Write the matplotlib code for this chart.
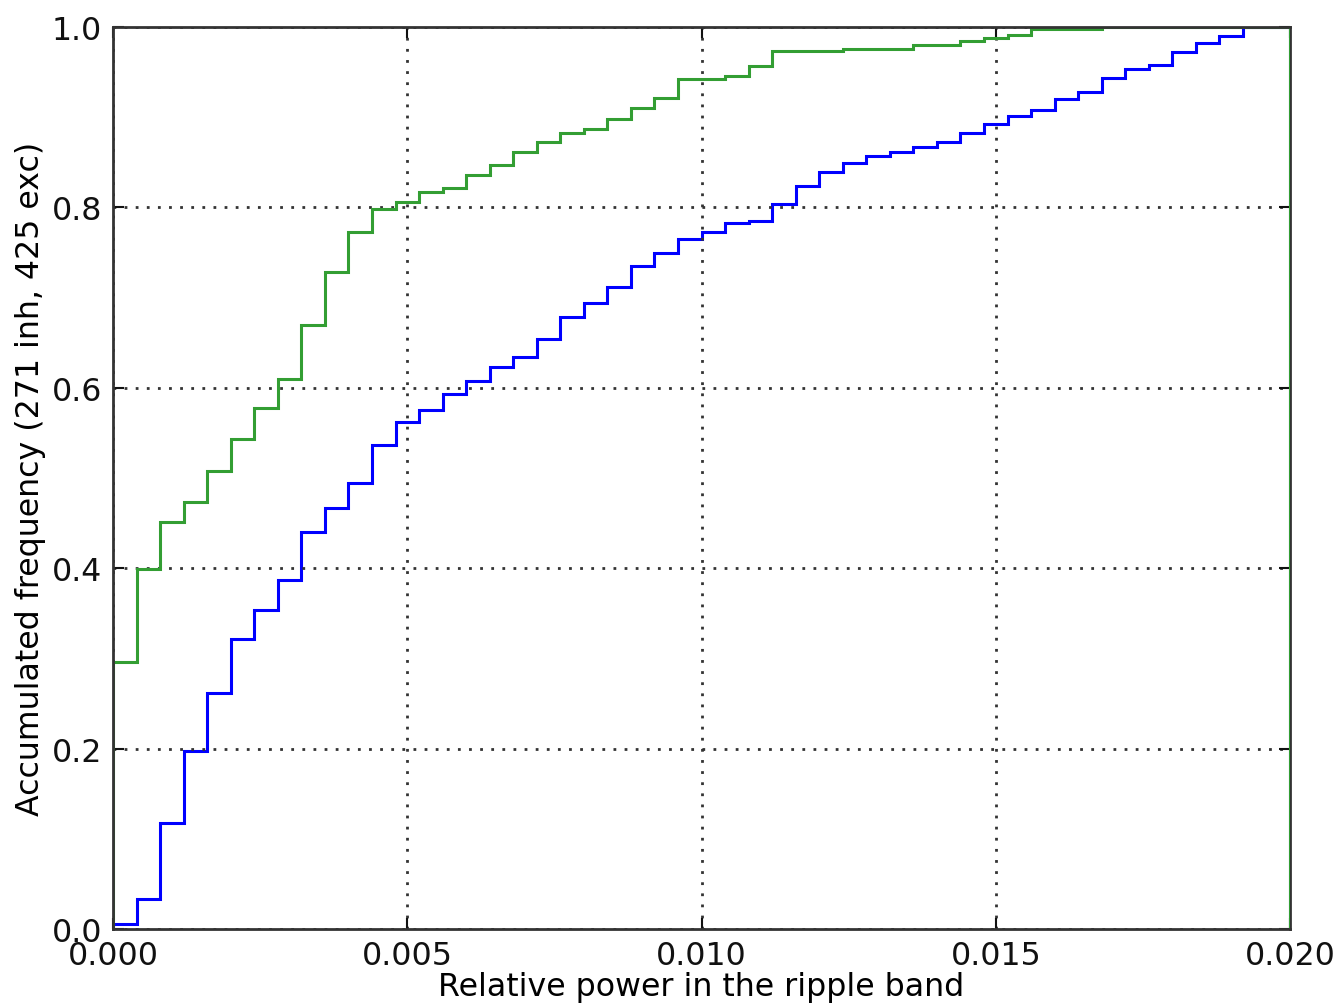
import numpy as np
import matplotlib
matplotlib.use("Agg")
import matplotlib.pyplot as plt

# bin edges of the cumulative histograms (50 bins between 0 and 0.02)
edges = np.linspace(0.0, 0.02, 51)

# accumulated frequency per bin, 425 excitatory cells
exc = [0.0055, 0.033, 0.117, 0.197, 0.262, 0.322, 0.354, 0.387, 0.440, 0.467,
       0.494, 0.537, 0.562, 0.575, 0.593, 0.608, 0.623, 0.634, 0.654, 0.679,
       0.694, 0.712, 0.735, 0.750, 0.765, 0.773, 0.783, 0.785, 0.804, 0.824,
       0.839, 0.849, 0.857, 0.861, 0.867, 0.873, 0.882, 0.892, 0.901, 0.908,
       0.920, 0.928, 0.943, 0.953, 0.958, 0.972, 0.982, 0.990, 1.0, 1.0]

# accumulated frequency per bin, 271 inhibitory cells
inh = [0.296, 0.399, 0.451, 0.473, 0.508, 0.543, 0.578, 0.610, 0.670, 0.728,
       0.773, 0.798, 0.806, 0.817, 0.821, 0.836, 0.847, 0.861, 0.872, 0.883,
       0.887, 0.898, 0.910, 0.921, 0.942, 0.942, 0.946, 0.957, 0.973, 0.973,
       0.973, 0.976, 0.976, 0.976, 0.980, 0.980, 0.984, 0.988, 0.991, 0.998,
       0.998, 0.998, 1.0, 1.0, 1.0, 1.0, 1.0, 1.0, 1.0, 1.0]

xticks = [0.0, 0.005, 0.010, 0.015, 0.020]
yticks = [0.0, 0.2, 0.4, 0.6, 0.8, 1.0]

fs = 22.8
fig = plt.figure(figsize=(13.36, 10.04), dpi=100)
ax = fig.add_axes([0.0846, 0.0737, 0.881, 0.8984])

ax.stairs(exc, edges, baseline=0, color='b', linewidth=2.2)
ax.stairs(inh, edges, baseline=0, color=(0.2, 0.62, 0.2), linewidth=2.2, zorder=3)

ax.set_xlim(0, 0.02)
ax.set_ylim(0, 1.0)
ax.set_xticks(xticks)
ax.set_xticklabels(['%.3f' % t for t in xticks])
ax.set_yticks(yticks)
ax.set_yticklabels(['%.1f' % t for t in yticks])

ax.grid(True, color='#333333', linestyle=(0, (1, 3)), linewidth=2)
ax.tick_params(direction='in', length=8, width=1.5, top=True, right=True,
               labelsize=fs, pad=8, colors='#111111')
for name, s in ax.spines.items():
    s.set_linewidth(2)
    s.set_color('#333333')
    # only the right frame edge sits under the green closing line
    s.set_zorder(2 if name == 'right' else 4)

ax.set_xlabel('Relative power in the ripple band', fontsize=fs, labelpad=0)
ax.set_ylabel('Accumulated frequency (271 inh, 425 exc)', fontsize=fs, labelpad=4)

fig.savefig('out.png', dpi=100)
